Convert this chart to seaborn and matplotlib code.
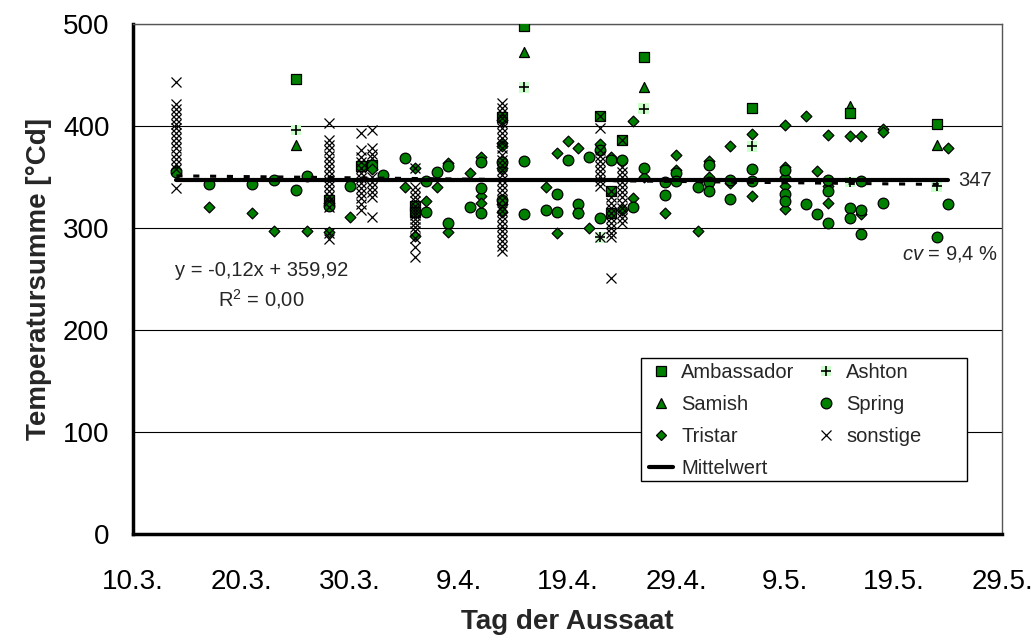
import pandas as pd
import matplotlib
matplotlib.use("Agg")
import matplotlib.pyplot as plt
import seaborn as sns
from matplotlib.lines import Line2D
from matplotlib.patches import Rectangle

# Tag im Jahr (10.3. = 69) und Temperatursumme [°Cd] je Sorte
ambassador_tag = [84, 87, 90, 91, 95, 95, 103, 105, 112, 113, 113, 114, 116, 126, 135, 143]
ambassador_wert = [446, 327, 361, 362, 322, 316, 409, 498, 410, 336, 315, 386, 468, 418, 413, 402]

samish_tag = [84, 105, 116, 135, 143]
samish_wert = [381, 473, 438, 420, 381]

ashton_tag = [84, 105, 112, 116, 126, 135, 143]
ashton_wert = [396, 438, 291, 417, 380, 345, 341]

spring_tag = [73, 76, 80, 82, 84, 85, 87, 89, 92, 94, 96, 96, 97, 98, 98, 100,
              101, 101, 101, 103, 103, 105, 105, 107, 108, 108, 109, 110, 110,
              111, 112, 112, 113, 114, 115, 116, 118, 118, 119, 119, 121, 122,
              122, 122, 124, 124, 126, 126, 129, 129, 129, 131, 132, 133, 133,
              133, 135, 135, 136, 136, 136, 138, 143, 144]
spring_wert = [355, 343, 343, 347, 337, 351, 322, 341, 352, 369, 346, 316, 355, 361, 305, 321,
               365, 339, 315, 365, 327, 366, 314, 318, 333, 316, 367, 324, 315,
               370, 376, 310, 367, 367, 321, 359, 345, 332, 354, 346, 340, 362,
               345, 336, 347, 328, 358, 346, 357, 333, 326, 324, 314, 347, 336,
               305, 320, 310, 346, 318, 294, 325, 291, 324]

tristar_tag = [73, 76, 80, 82, 85, 87, 87, 89, 91, 94, 95, 95, 96, 97, 98, 98, 100,
               101, 101, 101, 103, 103, 103, 103, 103, 103, 107, 108, 108, 109,
               110, 110, 111, 112, 113, 114, 115, 115, 116, 118, 119, 119, 121,
               122, 122, 124, 124, 126, 126, 129, 129, 129, 129, 129, 131, 132,
               133, 133, 133, 135, 136, 136, 138, 138, 144]
tristar_wert = [357, 321, 315, 297, 297, 325, 296, 311, 358, 340, 359, 292, 326, 340, 364, 296, 354,
                370, 331, 325, 406, 383, 380, 359, 324, 316, 340, 374, 295, 385,
                378, 315, 300, 382, 370, 318, 405, 329, 350, 315, 372, 357, 297,
                366, 350, 380, 344, 392, 331, 401, 360, 350, 341, 319, 410, 356,
                391, 341, 325, 390, 390, 314, 397, 394, 378]

sonstige_tag = ([73] * 16 + [87] * 17 + [90] * 13 + [91] * 10 + [95] * 16
                + [103] * 30 + [112] * 11 + [113] * 11 + [114] * 13)
sonstige_wert = [443, 422, 417, 412, 407, 402, 398, 393, 388, 383, 378, 373, 368, 363, 358, 339,
                 403, 386, 381, 376, 371, 366, 361, 356, 351, 346, 341, 336, 331, 326, 321, 295, 289,
                 393, 376, 370, 365, 359, 354, 349, 344, 339, 334, 329, 324, 318,
                 396, 378, 373, 369, 350, 345, 340, 335, 330, 311,
                 359, 340, 335, 330, 326, 322, 319, 316, 313, 309, 305, 301, 297, 290, 281, 272,
                 423, 418, 413, 408, 403, 398, 393, 388, 383, 378, 372, 367, 362, 357, 352,
                 347, 342, 337, 332, 327, 322, 317, 312, 307, 302, 297, 292, 287, 282, 277,
                 410, 398, 376, 371, 366, 361, 356, 351, 346, 341, 291,
                 336, 330, 325, 320, 315, 310, 305, 300, 295, 291, 251,
                 386, 360, 355, 350, 345, 340, 335, 330, 325, 320, 315, 310, 305]

mittelwert = 347
steigung = -0.12
achsenabschnitt = 359.92

tick_tage = [69, 79, 89, 99, 109, 119, 129, 139, 149]
tick_labels = ["10.3.", "20.3.", "30.3.", "9.4.", "19.4.", "29.4.", "9.5.", "19.5.", "29.5."]


def tabelle(tage, werte):
    return pd.DataFrame({"Tag": tage, "Temperatursumme": werte})


sns.set_theme(style="white")
plt.rcParams["font.family"] = ["Liberation Sans", "DejaVu Sans"]
plt.rcParams["mathtext.fontset"] = "custom"
plt.rcParams["mathtext.rm"] = "Liberation Sans"
plt.rcParams["mathtext.it"] = "Liberation Sans:italic"

fig, ax = plt.subplots(figsize=(10.33, 6.39), dpi=100)
fig.subplots_adjust(left=133 / 1033, right=1002 / 1033, top=1 - 24 / 639, bottom=1 - 534 / 639)

gruen = "#008000"
hellgruen = "#ccffcc"
kw = dict(x="Tag", y="Temperatursumme", ax=ax, legend=False, zorder=3)

sns.scatterplot(data=tabelle(samish_tag, samish_wert), marker="^", s=52,
                color=gruen, edgecolor="black", linewidth=0.9, **kw)
sns.scatterplot(data=tabelle(ambassador_tag, ambassador_wert), marker="s", s=59,
                color=gruen, edgecolor="black", linewidth=0.9, **kw)
sns.scatterplot(data=tabelle(tristar_tag, tristar_wert), marker="D", s=30,
                color=gruen, edgecolor="black", linewidth=0.9, **kw)
sns.scatterplot(data=tabelle(spring_tag, spring_wert), marker="o", s=59,
                color=gruen, edgecolor="black", linewidth=0.9, **kw)
# Ashton: Plus mit hellgruenem Hintergrund wie in Excel
sns.scatterplot(data=tabelle(ashton_tag, ashton_wert), marker="s", s=59,
                color=hellgruen, edgecolor="none", linewidth=0, **kw)
sns.scatterplot(data=tabelle(ashton_tag, ashton_wert), marker="+", s=59,
                color="black", linewidth=1.2, **kw)
sns.scatterplot(data=tabelle(sonstige_tag, sonstige_wert), marker="x", s=52,
                color="black", linewidth=0.9, **kw)

# Mittelwert und lineare Regression ueber den Bereich der Saattermine
alle_tage = ambassador_tag + samish_tag + ashton_tag + spring_tag + tristar_tag + sonstige_tag
x_linie = [min(alle_tage), max(alle_tage)]
ax.plot(x_linie, [achsenabschnitt + steigung * t for t in x_linie], color="black",
        lw=2.2, ls=(0, (2, 3.5)), zorder=4)
ax.plot(x_linie, [mittelwert, mittelwert], color="black", lw=3, zorder=4)

ax.set_xlim(69, 149)
ax.set_ylim(0, 500)
ax.set_xticks(tick_tage)
ax.set_xticklabels(tick_labels)
ax.set_yticks([0, 100, 200, 300, 400, 500])

ax.yaxis.grid(True, color="black", lw=0.8)
ax.xaxis.grid(False)
ax.set_axisbelow(True)

for seite in ["left", "bottom"]:
    ax.spines[seite].set_linewidth(2.5)
    ax.spines[seite].set_color("black")
for seite in ["top", "right"]:
    ax.spines[seite].set_linewidth(1)
    ax.spines[seite].set_color("#555555")

ax.tick_params(axis="both", direction="inout", length=14, width=2.4, labelsize=20,
               color="black", labelcolor="black")
ax.tick_params(axis="x", pad=18)
ax.tick_params(axis="y", pad=10)

ax.set_xlabel("Tag der Aussaat", fontsize=20, fontweight="bold", labelpad=10)
ax.set_ylabel("Temperatursumme [°Cd]", fontsize=20, fontweight="bold", labelpad=8)

ax.text(145, mittelwert, "347", fontsize=14.5, ha="left", va="center")
ax.text(148.6, 275, r"$\mathit{cv}$ = 9,4 %", fontsize=14.5, ha="right", va="center")
ax.text(80.8, 258, "y = -0,12x + 359,92", fontsize=14.5, ha="center", va="center")
ax.text(80.8, 230, r"R$^2$ = 0,00", fontsize=14.5, ha="center", va="center")


def punkt(marker, fc, ms, ec="black", mew=0.9):
    return Line2D([], [], marker=marker, ls="none", markersize=ms,
                  markerfacecolor=fc, markeredgecolor=ec, markeredgewidth=mew)


handles = [
    punkt("s", gruen, 7.7),
    punkt("^", gruen, 7.2),
    punkt("D", gruen, 5.5),
    Line2D([], [], color="black", lw=3),
    (punkt("s", hellgruen, 7.7, ec="none", mew=0), punkt("+", "black", 7.7, mew=1.2)),
    punkt("o", gruen, 7.7),
    punkt("x", "black", 7.2),
]
labels = ["Ambassador", "Samish", "Tristar", "Mittelwert", "Ashton", "Spring", "sonstige"]

# Excel-Legende: gleich breite Spalten, daher Rahmen separat
ax.add_patch(Rectangle((0.585, 0.104), 0.375, 0.241, transform=ax.transAxes,
                       facecolor="white", edgecolor="black", lw=1, zorder=4.9))
leg = ax.legend(handles, labels, ncol=2, loc="upper left", bbox_to_anchor=(0.594, 0.335),
                borderaxespad=0, borderpad=0, frameon=False, fontsize=14.5,
                handlelength=1.2, handletextpad=0.4, columnspacing=0.95,
                labelspacing=0.65)
leg.set_zorder(5)

fig.savefig("out.png", dpi=100)
